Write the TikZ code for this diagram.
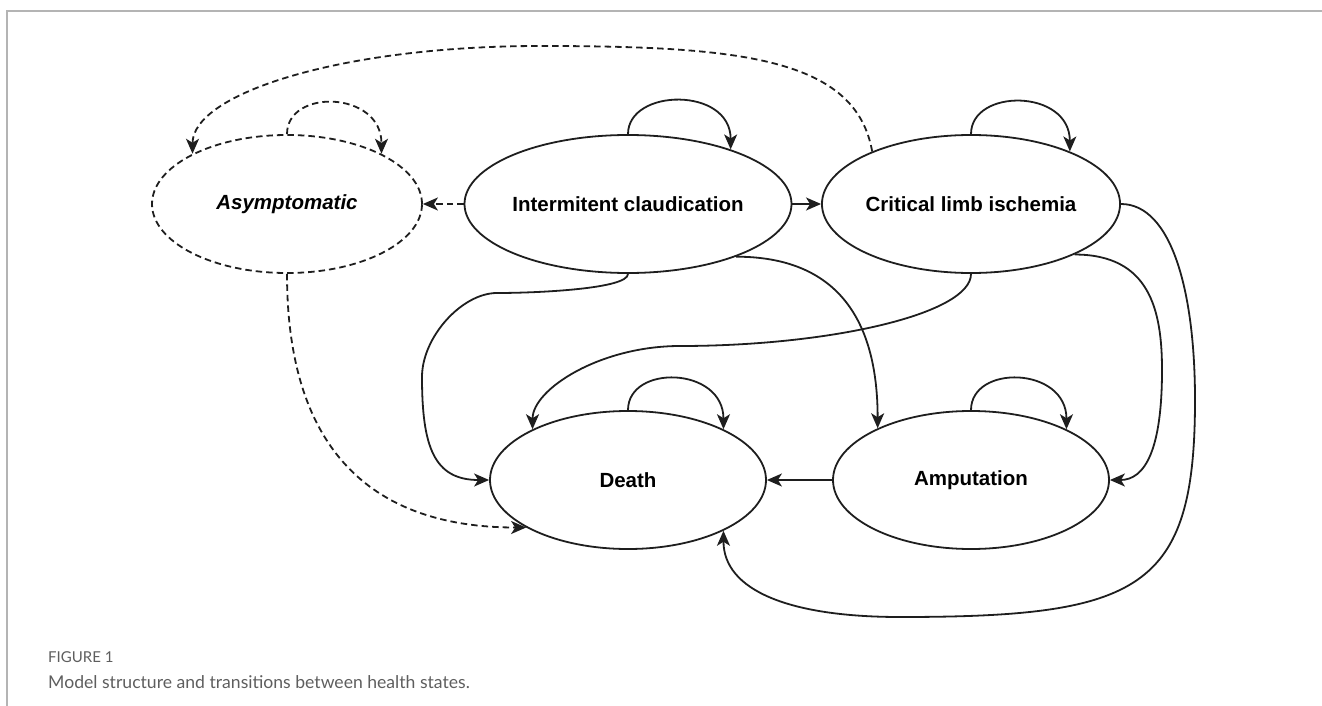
\documentclass[tikz,border=0pt]{standalone}
\usepackage{fontspec}
\usepackage{tikz}
\usetikzlibrary{shapes.geometric,arrows.meta}
\newfontfamily\statefont{Liberation Sans}
\newfontfamily\capfont{Lato}
\definecolor{framegray}{HTML}{B4B4B4}
\definecolor{capgray}{HTML}{5E5E5E}
\definecolor{inkgray}{HTML}{1E1E1E}

\begin{document}
\begin{tikzpicture}[x=1pt, y=1pt, node distance=343pt, line width=1.8pt, draw=inkgray,
                    >={Stealth[length=15pt,width=13pt,inset=4pt]},
                    health state/.style={ellipse, draw=inkgray, minimum width=276pt, minimum height=138pt,
                      inner sep=0pt, font=\statefont\fontsize{20.5}{24}\selectfont\bfseries},
                    dashed link/.style={dash pattern=on 6.5pt off 4pt},
                    loop edge/.style={out=90, in=90, out distance=46pt, in distance=63pt}]

  \useasboundingbox (0,0) rectangle (1322,-706);
  \draw[framegray, line width=1.5pt] (7,-706) -- (7,-11) -- (1322,-11);

  \node[health state] (ic) at (628,-204) {Intermitent claudication};
  \node[health state, dashed link, minimum width=270pt] (asym) [node distance=341pt, left of=ic] {\itshape Asymptomatic};
  \node[health state] (cli) [right of=ic] {Critical limb ischemia};
  \node[health state] (death) [node distance=276pt, below of=ic] {Death};
  \node[health state] (amp) [node distance=276pt, below of=cli] {Amputation};

  \path[->] (ic) edge (cli)
            (ic) edge[dashed link] (asym)
            (amp) edge (death);

  \draw[->, dashed link] (asym.north) to[loop edge] (asym.28);
  \draw[->] (ic.north) to[loop edge] (ic.28);
  \draw[->] (cli.north) to[loop edge] (cli.28);
  \draw[->] (death.north) to[loop edge] (death.28);
  \draw[->] (amp.north) to[loop edge] (amp.28);

  \draw[->, dashed link] (cli.152) to[out=100, in=0, out distance=95pt, in distance=200pt] (540,-46)
    to[out=180, in=90, out distance=200pt, in distance=60pt] (asym.152);
  \draw[->, dashed link] (asym.south) to[out=-90, in=180, out distance=200pt, in distance=130pt] (death.205);

  \draw[->] (ic.south) to[out=-90, in=0, out distance=15pt, in distance=40pt] (497,-293)
    to[out=180, in=90, out distance=35pt, in distance=40pt] (422,-377)
    to[out=-90, in=180, out distance=70pt, in distance=55pt] (death.west);
  \draw[->] (ic.-26) to[out=0, in=90, out distance=100pt, in distance=110pt] (amp.151);
  \draw[->] (cli.south) to[out=-90, in=0, out distance=40pt, in distance=150pt] (680,-346)
    to[out=180, in=90, out distance=80pt, in distance=40pt] (death.152);
  \draw[->] (cli.-26) to[out=0, in=90, out distance=75pt, in distance=60pt] (1162,-370)
    to[out=-90, in=0, out distance=80pt, in distance=35pt] (amp.east);
  \draw[->] (cli.east) to[out=0, in=90, out distance=50pt, in distance=110pt] (1195,-400)
    to[out=-90, in=0, out distance=190pt, in distance=240pt] (900,-617)
    to[out=180, in=-90, out distance=110pt, in distance=60pt] (death.-28);

  \node[anchor=base west, text=capgray, font=\capfont\fontsize{15}{18}\selectfont] (figlabel) at (44,-662) {FIGURE 1};
  \node[anchor=base west, text=capgray, font=\capfont\fontsize{17.6}{21}\selectfont] (caption) at (44,-688)
    {Model structure and transitions between health states.};
\end{tikzpicture}
\end{document}
